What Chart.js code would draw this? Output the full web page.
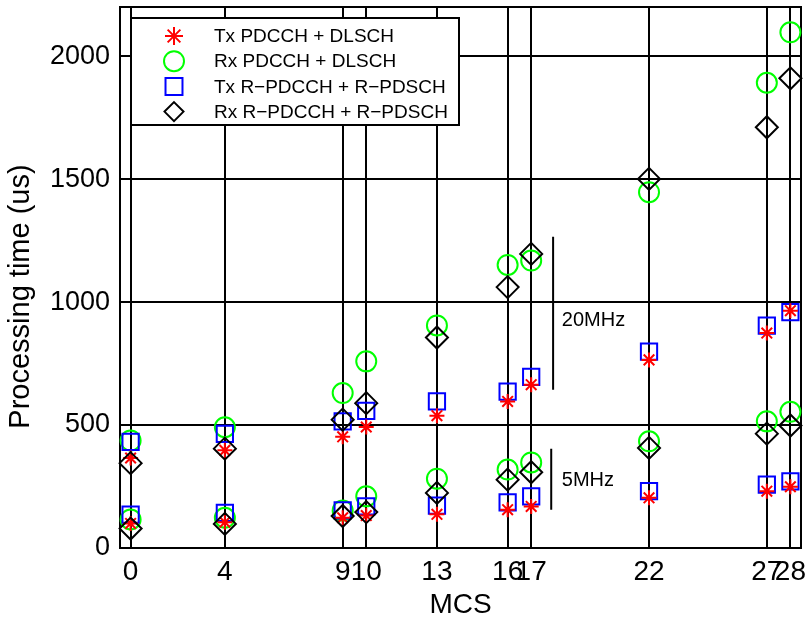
<!DOCTYPE html>
<html><head><meta charset="utf-8">
<script src="https://cdn.jsdelivr.net/npm/chart.js@4.4.0/dist/chart.umd.min.js"></script>
<style>html,body{margin:0;padding:0;background:#fff}</style>
</head><body>
<canvas id="c" width="805" height="619"></canvas>
<script>
// MCS values (x categories / tick labels)
const mcs = [0, 4, 9, 10, 13, 16, 17, 22, 27, 28];
const yTicks = [0, 500, 1000, 1500, 2000];

// Processing time (us), 20 MHz bandwidth
const txPdcch20  = [366, 397, 452, 492, 538, 596, 664, 765, 874, 965];
const rxPdcch20  = [437, 491, 630, 759, 905, 1151, 1169, 1447, 1892, 2097];
const txRPdcch20 = [432, 464, 515, 558, 596, 636, 696, 799, 904, 959];
const rxRPdcch20 = [345, 404, 522, 589, 856, 1061, 1196, 1501, 1711, 1910];

// Processing time (us), 5 MHz bandwidth
const txPdcch5  = [100, 105, 123, 132, 137, 156, 169, 204, 231, 249];
const rxPdcch5  = [116, 123, 152, 210, 282, 319, 348, 434, 515, 554];
const txRPdcch5 = [136, 143, 153, 169, 172, 186, 210, 231, 258, 271];
const rxRPdcch5 = [79, 98, 130, 146, 224, 278, 308, 407, 465, 498];

const seriesLabels = ['Tx PDCCH + DLSCH', 'Rx PDCCH + DLSCH', 'Tx R\u2212PDCCH + R\u2212PDSCH', 'Rx R\u2212PDCCH + R\u2212PDSCH'];
const yTitle = 'Processing time (us)';
const xTitle = 'MCS';

const FONT = "'Liberation Sans', Arial, Helvetica, sans-serif";

function pts(a20, a5) {
  return mcs.map((m, i) => ({x: m, y: a20[i]})).concat(mcs.map((m, i) => ({x: m, y: a5[i]})));
}

const styles = [
  {pointStyle: 'star', radius: 7.5, color: '#ff0000', order: 1, legR: 9},
  {pointStyle: 'circle', radius: 10, color: '#00ff00', order: 3, legR: 10},
  {pointStyle: 'rect', radius: 11.5, color: '#0000ff', order: 2, legR: 12},
  {pointStyle: 'rectRot', radius: 11, color: '#000000', order: 0, legR: 9.5}
];
const seriesData = [pts(txPdcch20, txPdcch5), pts(rxPdcch20, rxPdcch5), pts(txRPdcch20, txRPdcch5), pts(rxRPdcch20, rxRPdcch5)];

const datasets = seriesData.map((d, i) => ({
  label: seriesLabels[i],
  data: d,
  showLine: false,
  pointStyle: styles[i].pointStyle,
  pointRadius: styles[i].radius,
  pointHoverRadius: styles[i].radius,
  pointBorderWidth: 2,
  pointBorderColor: styles[i].color,
  pointBackgroundColor: 'rgba(0,0,0,0)',
  borderColor: styles[i].color,
  order: styles[i].order,
  clip: false
}));

function drawMarker(ctx, style, x, y, r, color) {
  ctx.save();
  ctx.strokeStyle = color;
  ctx.lineWidth = 2;
  ctx.beginPath();
  if (style === 'star') {
    ctx.moveTo(x - r, y); ctx.lineTo(x + r, y);
    ctx.moveTo(x, y - r); ctx.lineTo(x, y + r);
    const d = r * Math.SQRT1_2;
    ctx.moveTo(x - d, y - d); ctx.lineTo(x + d, y + d);
    ctx.moveTo(x - d, y + d); ctx.lineTo(x + d, y - d);
  } else if (style === 'circle') {
    ctx.arc(x, y, r, 0, Math.PI * 2);
  } else if (style === 'rect') {
    const s = r * Math.SQRT1_2;
    ctx.rect(x - s, y - s, 2 * s, 2 * s);
  } else {
    ctx.moveTo(x, y - r); ctx.lineTo(x + r, y); ctx.lineTo(x, y + r); ctx.lineTo(x - r, y); ctx.closePath();
  }
  ctx.stroke();
  ctx.restore();
}

const boxPlugin = {
  id: 'box',
  beforeDatasetsDraw(chart) {
    const {ctx, chartArea: a} = chart;
    ctx.save();
    ctx.strokeStyle = '#000';
    ctx.lineWidth = 2;
    ctx.strokeRect(a.left, a.top, a.right - a.left, a.bottom - a.top);
    // bandwidth group markers
    const xs = chart.scales.x, ys = chart.scales.y;
    ctx.beginPath();
    ctx.moveTo(xs.getPixelForValue(17.93), ys.getPixelForValue(1266));
    ctx.lineTo(xs.getPixelForValue(17.93), ys.getPixelForValue(644));
    ctx.moveTo(xs.getPixelForValue(17.85), ys.getPixelForValue(404));
    ctx.lineTo(xs.getPixelForValue(17.85), ys.getPixelForValue(156));
    ctx.stroke();
    ctx.fillStyle = '#000';
    ctx.font = '20px ' + FONT;
    ctx.textAlign = 'left';
    ctx.textBaseline = 'alphabetic';
    ctx.fillText('20MHz', xs.getPixelForValue(18.3), ys.getPixelForValue(904));
    ctx.fillText('5MHz', xs.getPixelForValue(18.3), ys.getPixelForValue(251));
    ctx.restore();
  },
  afterDatasetsDraw(chart) {
    const {ctx, chartArea: a} = chart;
    ctx.save();
    const lx = 131, ly = 18, lw = 328, lh = 107;
    ctx.fillStyle = '#fff';
    ctx.fillRect(lx, ly, lw, lh);
    ctx.strokeStyle = '#000';
    ctx.lineWidth = 2;
    ctx.strokeRect(lx, ly, lw, lh);
    ctx.font = '19px ' + FONT;
    ctx.textBaseline = 'middle';
    ctx.textAlign = 'left';
    ctx.fillStyle = '#000';
    seriesLabels.forEach((lab, i) => {
      const y = 36 + i * 25.2;
      drawMarker(ctx, styles[i].pointStyle, 174, y, styles[i].legR, styles[i].color);
      ctx.fillText(lab, 214, y + 1);
    });
    // y-axis title (placed slightly below axis centre, as in the original)
    ctx.translate(29, (a.top + a.bottom) / 2 + 19);
    ctx.rotate(-Math.PI / 2);
    ctx.font = '29px ' + FONT;
    ctx.textAlign = 'center';
    ctx.textBaseline = 'alphabetic';
    ctx.fillText(yTitle, 0, 0);
    ctx.restore();
  }
};

new Chart(document.getElementById('c'), {
  type: 'scatter',
  data: {datasets},
  options: {
    responsive: false,
    animation: false,
    events: [],
    layout: {autoPadding: false, padding: {top: 7, right: 4, left: 0, bottom: 0}},
    plugins: {legend: {display: false}, tooltip: {enabled: false}},
    scales: {
      x: {
        type: 'linear', min: -0.45, max: 28.45,
        afterBuildTicks: s => { s.ticks = mcs.map(v => ({value: v})); },
        afterFit: s => { s.height = 71; s.paddingLeft = 0; s.paddingRight = 0; },
        ticks: {autoSkip: false, maxRotation: 0, minRotation: 0, padding: 7, color: '#000',
          font: {family: FONT, size: 28}, callback: v => String(v)},
        grid: {color: '#000', lineWidth: 2, drawTicks: false},
        border: {display: true, color: '#000', width: 2},
        title: {display: true, text: xTitle, color: '#000', font: {family: FONT, size: 28, lineHeight: 1}, padding: {top: 0, bottom: 0}}
      },
      y: {
        type: 'linear', min: 0, max: 2200,
        afterBuildTicks: s => { s.ticks = yTicks.map(v => ({value: v})); },
        afterFit: s => { s.width = 120; s.paddingTop = 0; s.paddingBottom = 0; },
        ticks: {padding: 10, color: '#000', font: {family: FONT, size: 27}, callback: v => String(v)},
        grid: {color: '#000', lineWidth: 2, drawTicks: false},
        border: {display: true, color: '#000', width: 2},
        title: {display: false}
      }
    }
  },
  plugins: [boxPlugin]
});
</script>
</body></html>
